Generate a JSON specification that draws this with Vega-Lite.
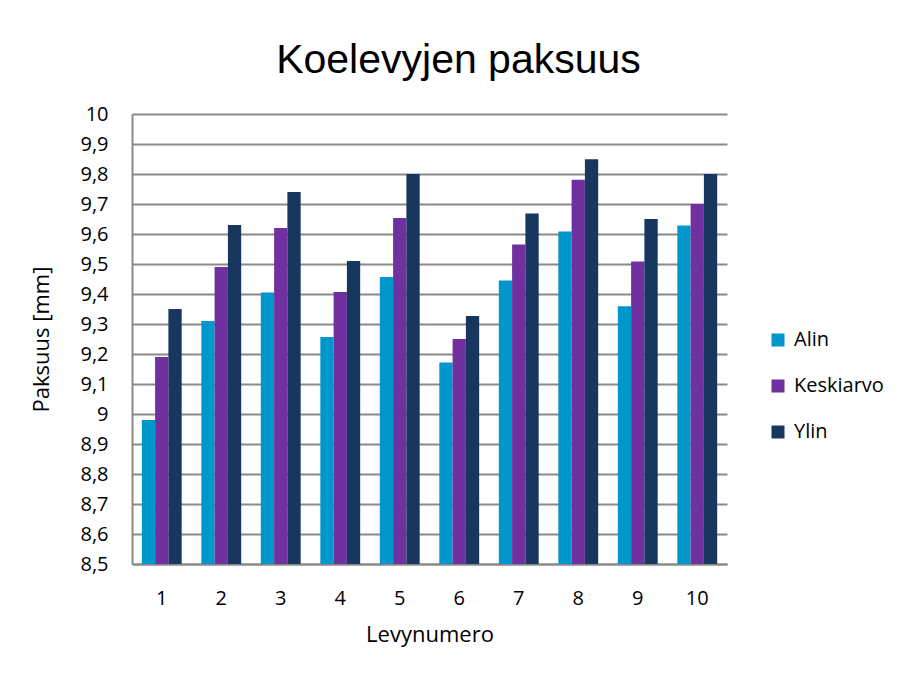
{
  "$schema": "https://vega.github.io/schema/vega-lite/v6.json",
  "width": 595,
  "height": 450,
  "autosize": "none",
  "padding": {"left": 132, "top": 114, "right": 170, "bottom": 110},
  "background": "white",
  "title": {
    "text": "Koelevyjen paksuus",
    "font": "Liberation Sans",
    "fontSize": 41,
    "fontWeight": "normal",
    "color": "#000000",
    "anchor": "middle",
    "baseline": "alphabetic",
    "dx": 29,
    "dy": 54,
    "offset": 44
  },
  "data": {
    "values": [
      {"Levy": 1, "Sarja": "Alin", "Arvo": 8.98},
      {"Levy": 1, "Sarja": "Keskiarvo", "Arvo": 9.19},
      {"Levy": 1, "Sarja": "Ylin", "Arvo": 9.35},
      {"Levy": 2, "Sarja": "Alin", "Arvo": 9.31},
      {"Levy": 2, "Sarja": "Keskiarvo", "Arvo": 9.49},
      {"Levy": 2, "Sarja": "Ylin", "Arvo": 9.63},
      {"Levy": 3, "Sarja": "Alin", "Arvo": 9.405},
      {"Levy": 3, "Sarja": "Keskiarvo", "Arvo": 9.62},
      {"Levy": 3, "Sarja": "Ylin", "Arvo": 9.74},
      {"Levy": 4, "Sarja": "Alin", "Arvo": 9.257},
      {"Levy": 4, "Sarja": "Keskiarvo", "Arvo": 9.407},
      {"Levy": 4, "Sarja": "Ylin", "Arvo": 9.51},
      {"Levy": 5, "Sarja": "Alin", "Arvo": 9.457},
      {"Levy": 5, "Sarja": "Keskiarvo", "Arvo": 9.653},
      {"Levy": 5, "Sarja": "Ylin", "Arvo": 9.8},
      {"Levy": 6, "Sarja": "Alin", "Arvo": 9.172},
      {"Levy": 6, "Sarja": "Keskiarvo", "Arvo": 9.25},
      {"Levy": 6, "Sarja": "Ylin", "Arvo": 9.327},
      {"Levy": 7, "Sarja": "Alin", "Arvo": 9.445},
      {"Levy": 7, "Sarja": "Keskiarvo", "Arvo": 9.565},
      {"Levy": 7, "Sarja": "Ylin", "Arvo": 9.668},
      {"Levy": 8, "Sarja": "Alin", "Arvo": 9.608},
      {"Levy": 8, "Sarja": "Keskiarvo", "Arvo": 9.781},
      {"Levy": 8, "Sarja": "Ylin", "Arvo": 9.849},
      {"Levy": 9, "Sarja": "Alin", "Arvo": 9.359},
      {"Levy": 9, "Sarja": "Keskiarvo", "Arvo": 9.508},
      {"Levy": 9, "Sarja": "Ylin", "Arvo": 9.65},
      {"Levy": 10, "Sarja": "Alin", "Arvo": 9.628},
      {"Levy": 10, "Sarja": "Keskiarvo", "Arvo": 9.7},
      {"Levy": 10, "Sarja": "Ylin", "Arvo": 9.8}
    ]
  },
  "mark": {"type": "bar", "clip": true},
  "encoding": {
    "x": {
      "field": "Levy",
      "type": "ordinal",
      "scale": {"paddingInner": 0.33, "paddingOuter": 0.165},
      "axis": {
        "title": "Levynumero",
        "labelAngle": 0,
        "ticks": false,
        "grid": false,
        "labelPadding": 24,
        "titlePadding": 16
      }
    },
    "xOffset": {"field": "Sarja", "type": "nominal", "scale": {"paddingInner": 0, "paddingOuter": 0}},
    "y": {
      "field": "Arvo",
      "type": "quantitative",
      "scale": {"domain": [8.5, 10], "zero": false, "nice": false},
      "axis": {
        "title": "Paksuus [mm]",
        "values": [8.5, 8.6, 8.7, 8.8, 8.9, 9, 9.1, 9.2, 9.3, 9.4, 9.5, 9.6, 9.7, 9.8, 9.9, 10],
        "labelExpr": "replace(format(datum.value, '.1~f'), '.', ',')",
        "ticks": false,
        "grid": true,
        "labelPadding": 24,
        "titlePadding": 26
      }
    },
    "color": {
      "field": "Sarja",
      "type": "nominal",
      "scale": {"domain": ["Alin", "Keskiarvo", "Ylin"], "range": ["#0098CC", "#7030A0", "#17375E"]},
      "legend": {
        "title": null,
        "orient": "none",
        "legendX": 636,
        "legendY": 216,
        "symbolType": "square",
        "symbolSize": 169,
        "symbolStrokeWidth": 0,
        "labelFontSize": 20,
        "labelFont": "Open Sans",
        "labelColor": "#000000",
        "labelOffset": 6,
        "rowPadding": 26
      }
    }
  },
  "config": {
    "view": {"stroke": null},
    "axis": {
      "domainColor": "#8a8a8a",
      "domainWidth": 2,
      "gridColor": "#8a8a8a",
      "gridWidth": 2,
      "labelFont": "Open Sans",
      "labelFontSize": 20,
      "labelColor": "#000000",
      "titleFont": "Open Sans",
      "titleFontSize": 22,
      "titleFontWeight": "normal",
      "titleColor": "#000000"
    }
  }
}
